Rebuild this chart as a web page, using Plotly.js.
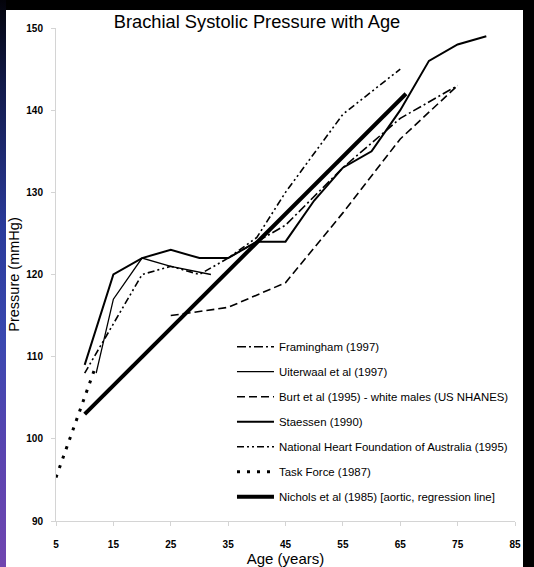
<!DOCTYPE html>
<html>
<head>
<meta charset="utf-8">
<script src="https://cdn.plot.ly/plotly-3.0.1.min.js"></script>
<style>
html,body{margin:0;padding:0;width:534px;height:567px;overflow:hidden;background:#000;}
#band{position:absolute;left:0;top:0;width:6px;height:567px;
  background:linear-gradient(to bottom,#03030a 0%,#121a4a 15%,#2a3a9a 40%,#3a48b0 60%,#5a44b0 80%,#7046b0 100%);}
#chart{position:absolute;left:6px;top:10px;width:517px;height:557px;background:#fff;}
</style>
</head>
<body>
<div id="band"></div>
<div id="chart"></div>
<script>
// ---- data ----
var framAge = [35, 45, 55, 65, 75];
var framBP  = [122, 126, 133, 139, 143];

var uitAge = [12, 15, 20, 25, 32];
var uitBP  = [108, 117, 122, 121, 120];

var burtAge = [25, 35, 45, 55, 65, 75];
var burtBP  = [115, 116, 119, 127.5, 136.5, 143];

var staAge = [10, 15, 20, 25, 30, 35, 40, 45, 50, 55, 60, 65, 70, 75, 80];
var staBP  = [109, 120, 122, 123, 122, 122, 124, 124, 129, 133, 135, 140, 146, 148, 149];

var nhfAge = [10, 15, 20, 25, 30, 35, 40, 45, 55, 65];
var nhfBP  = [108, 114, 120, 121, 120, 122, 124.5, 130, 139.5, 145];

var tfAge = [5, 12];
var tfBP  = [95.3, 109];

var nichAge = [10, 66];
var nichBP  = [103, 142];

var seriesNames = [
  'Framingham (1997)',
  'Uiterwaal et al (1997)',
  'Burt et al (1995) - white males (US NHANES)',
  'Staessen (1990)',
  'National Heart Foundation of Australia (1995)',
  'Task Force (1987)',
  'Nichols et al (1985) [aortic, regression line]'
];
var xTicks = [5, 15, 25, 35, 45, 55, 65, 75, 85];
var yTicks = [90, 100, 110, 120, 130, 140, 150];

var styles = [
  {width: 1.6, dash: '9px,3px,2px,3px'},
  {width: 1.3, dash: 'solid'},
  {width: 1.6, dash: '8px,4px'},
  {width: 2.0, dash: 'solid'},
  {width: 1.6, dash: '7px,3px,2px,3px,2px,3px'},
  {width: 3.0, dash: '3px,7px'},
  {width: 4.0, dash: 'solid'}
];
var xs = [framAge, uitAge, burtAge, staAge, nhfAge, tfAge, nichAge];
var ys = [framBP, uitBP, burtBP, staBP, nhfBP, tfBP, nichBP];

var traces = xs.map(function (x, i) {
  return {
    x: x, y: ys[i], name: seriesNames[i], type: 'scatter', mode: 'lines',
    legendgroup: 'g' + i,
    line: {color: '#000', width: styles[i].width, dash: styles[i].dash},
    hoverinfo: 'skip'
  };
});

var axisFont = {family: 'Liberation Sans, Arial, sans-serif', size: 10, color: '#000', weight: 'bold'};

var layout = {
  width: 517, height: 557,
  margin: {l: 50, r: 8, t: 18, b: 46, pad: 0, autoexpand: false},
  paper_bgcolor: '#fff', plot_bgcolor: '#fff',
  font: {family: 'Liberation Sans, Arial, sans-serif', color: '#000'},
  title: {
    text: 'Brachial Systolic Pressure with Age',
    font: {family: 'Liberation Sans, Arial, sans-serif', size: 18.3, color: '#000'},
    xref: 'container', x: 0.4855, xanchor: 'center',
    yref: 'container', y: 0.979, yanchor: 'middle'
  },
  xaxis: {
    range: [5, 85], tickvals: xTicks, ticktext: xTicks.map(String),
    showgrid: false, zeroline: false,
    showline: true, linecolor: '#d4d4d4', linewidth: 1,
    ticks: 'outside', ticklen: 4, tickcolor: '#d4d4d4',
    ticklabelstandoff: 10,
    tickfont: axisFont,
    title: {text: 'Age (years)', font: {family: 'Liberation Sans, Arial, sans-serif', size: 15, color: '#000'}, standoff: 7}
  },
  yaxis: {
    range: [90, 150], tickvals: yTicks, ticktext: yTicks.map(String),
    showgrid: false, zeroline: false,
    showline: true, linecolor: '#d4d4d4', linewidth: 1,
    ticks: 'outside', ticklen: 4, tickcolor: '#d4d4d4',
    ticklabelstandoff: 6,
    tickfont: axisFont,
    title: {text: 'Pressure (mmHg)', font: {family: 'Liberation Sans, Arial, sans-serif', size: 14.5, color: '#000'}, standoff: 6}
  },
  showlegend: true,
  legend: {
    x: 0.3834, xanchor: 'left', y: 0.383, yanchor: 'top',
    bgcolor: 'rgba(0,0,0,0)', borderwidth: 0,
    traceorder: 'grouped', tracegroupgap: 6,
    itemwidth: 37,
    font: {family: 'Liberation Sans, Arial, sans-serif', size: 11.4, color: '#000'}
  }
};

Plotly.newPlot('chart', traces, layout, {displayModeBar: false, staticPlot: true});
</script>
</body>
</html>
